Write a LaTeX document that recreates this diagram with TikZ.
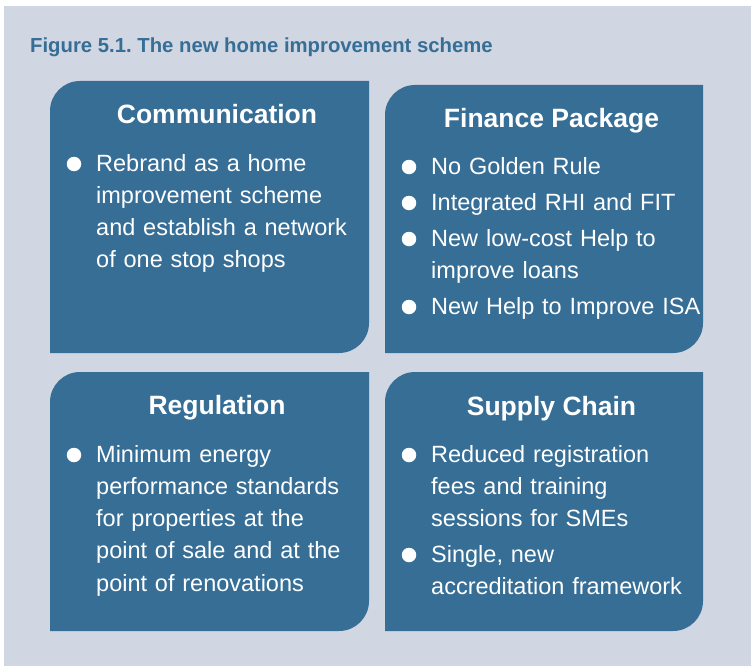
\documentclass[tikz,border=0pt]{standalone}
\usepackage{fontspec}
\setmainfont{Liberation Sans}
\usepackage{xcolor}
\usepackage{tikz}
\frenchspacing

\definecolor{panelblue}{HTML}{366E96}
\definecolor{backgrey}{HTML}{D0D6E2}

\tikzset{
  heading/.style={anchor=base, inner sep=0, text=white,
    font=\bfseries\fontsize{26.5}{30}\selectfont},
  item/.style={anchor=base west, inner sep=0, text=white, text width=300pt,
    align=left, font=\fontsize{23.5}{32.3}\selectfont},
  dot/.style={circle, fill=white, inner sep=0, minimum size=14.5pt},
}

\begin{document}
\begin{tikzpicture}[x=1pt,y=1pt]
      \useasboundingbox (0,0) rectangle (751,-666);
      \fill[backgrey] (4,-6) rectangle (751,-666);

      \node[anchor=base west, inner sep=0, text=panelblue,
        font=\bfseries\fontsize{20.3}{24}\selectfont] (title) at (30,-53)
        {Figure 5.1. The new home improvement scheme};

      % panels
      \fill[panelblue] (50,-353) -- (50,-111) arc[start angle=180, end angle=90, radius=30pt]
        -- (369,-81) -- (369,-323) arc[start angle=0, end angle=-90, radius=30pt] -- cycle;
      \fill[panelblue] (385,-353) -- (385,-115) arc[start angle=180, end angle=90, radius=30pt]
        -- (703,-85) -- (703,-323) arc[start angle=0, end angle=-90, radius=30pt] -- cycle;
      \fill[panelblue] (50,-631) -- (50,-402) arc[start angle=180, end angle=90, radius=30pt]
        -- (369,-372) -- (369,-601) arc[start angle=0, end angle=-90, radius=30pt] -- cycle;
      \fill[panelblue] (385,-631) -- (385,-402) arc[start angle=180, end angle=90, radius=30pt]
        -- (703,-372) -- (703,-601) arc[start angle=0, end angle=-90, radius=30pt] -- cycle;

      % Communication
      \node[heading] (comm) at (217,-124) {Communication};
      \node[dot] (c1) at (74,-164) {};
      \node[item] (ct1) at (96,-171) {Rebrand as a home\\improvement scheme\\and establish a network\\of one stop shops};

      % Finance Package
      \node[heading] (fin) at (551.5,-128) {Finance Package};
      \node[dot] (f1) at (409,-167) {};
      \node[item] (ft1) at (431,-174) {No Golden Rule};
      \node[dot] (f2) at (409,-203) {};
      \node[item] (ft2) at (431,-210) {Integrated RHI and FIT};
      \node[dot] (f3) at (409,-239) {};
      \node[item] (ft3) at (431,-246) {New low-cost Help to\\improve loans};
      \node[dot] (f4) at (409,-307) {};
      \node[item] (ft4) at (431,-314) {New Help to Improve ISA};

      % Regulation
      \node[heading] (reg) at (217,-414) {Regulation};
      \node[dot] (r1) at (74,-455) {};
      \node[item] (rt1) at (96,-462) {Minimum energy\\performance standards\\for properties at the\\point of sale and at the\\point of renovations};

      % Supply Chain
      \node[heading] (sup) at (551.5,-415) {Supply Chain};
      \node[dot] (s1) at (409,-455) {};
      \node[item] (st1) at (431,-462) {Reduced registration\\fees and training\\sessions for SMEs};
      \node[dot] (s2) at (409,-555) {};
      \node[item] (st2) at (431,-562) {Single, new\\accreditation framework};
    \end{tikzpicture}
\end{document}
